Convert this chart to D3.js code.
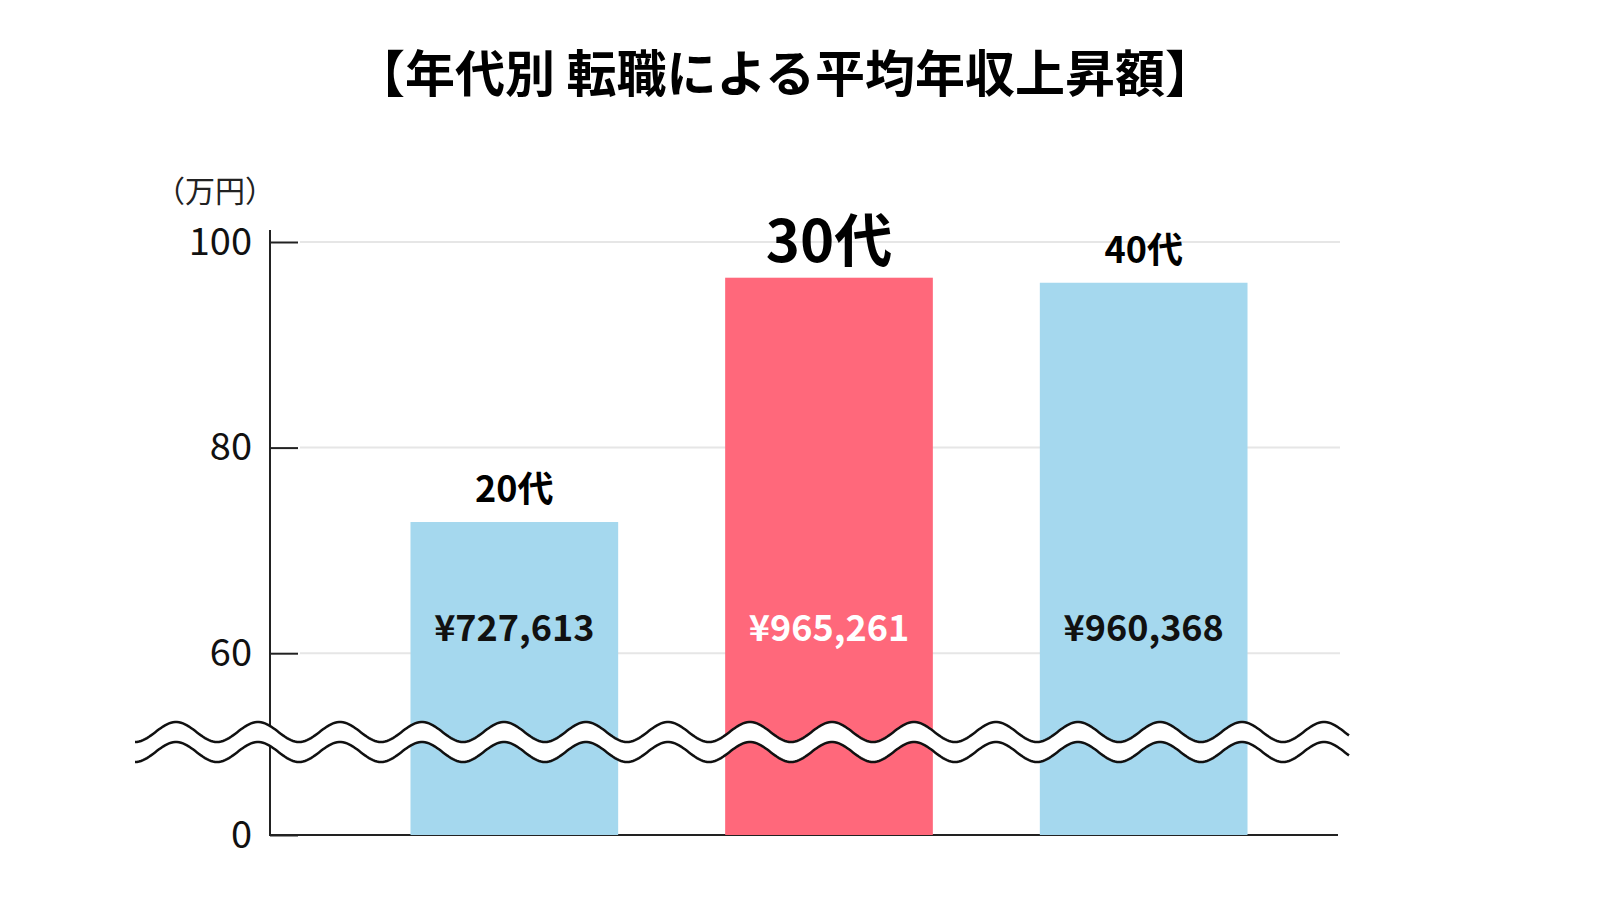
<!DOCTYPE html>
<html><head><meta charset="utf-8">
<script src="https://cdn.jsdelivr.net/npm/d3@7"></script>
<style>body{margin:0;background:#fff}text{font-family:"Noto Sans CJK JP",sans-serif}</style>
</head><body><svg id="c" width="1600" height="920"></svg>
<script>
const categories = ["20代", "30代", "40代"];
const values = [72.7613, 96.5261, 96.0368];
const valueLabels = ["¥727,613", "¥965,261", "¥960,368"];
const highlight = [false, true, false];
const tickValues = [0, 60, 80, 100];

const svg = d3.select("#c");
const x = d3.scaleBand().domain(categories).range([357, 1301]).paddingInner(0.34).paddingOuter(0.17);
// broken axis: 0..50 compressed below the wave
const y = d3.scaleLinear().domain([0, 50, 100]).range([835, 756, 242]);

svg.append("text").attr("x", 785).attr("y", 92).attr("text-anchor", "middle")
  .attr("font-size", 50).attr("font-weight", 700).text("【年代別 転職による平均年収上昇額】");
svg.append("text").attr("x", 215).attr("y", 202).attr("text-anchor", "middle")
  .attr("font-size", 30).attr("fill", "#222").text("（万円）");

svg.selectAll(".grid").data(tickValues.filter(d => d > 0)).join("line")
  .attr("x1", 300).attr("x2", 1340).attr("y1", d => y(d)).attr("y2", d => y(d))
  .attr("stroke", "#e6e6e6").attr("stroke-width", 2);

const axis = d3.axisLeft(y).tickValues(tickValues).tickSize(-28).tickPadding(18);
const g = svg.append("g").attr("transform", "translate(270,0)").call(axis);
g.select(".domain").remove();
g.selectAll(".tick line").attr("stroke", "#222").attr("stroke-width", 2);
g.selectAll(".tick text").attr("font-size", 38).attr("fill", "#111")
  .attr("font-family", '"Noto Sans CJK JP",sans-serif');
svg.append("line").attr("x1", 270).attr("x2", 270).attr("y1", 230).attr("y2", 836)
  .attr("stroke", "#222").attr("stroke-width", 2);
svg.append("line").attr("x1", 269).attr("x2", 1338).attr("y1", 835).attr("y2", 835)
  .attr("stroke", "#222").attr("stroke-width", 2);

svg.selectAll(".bar").data(categories).join("rect")
  .attr("x", d => x(d)).attr("width", x.bandwidth())
  .attr("y", (d, i) => y(values[i])).attr("height", (d, i) => y(0) - y(values[i]))
  .attr("fill", (d, i) => highlight[i] ? "#ff687b" : "#a5d8ee");

svg.selectAll(".cat").data(categories).join("text")
  .attr("x", d => x(d) + x.bandwidth() / 2)
  .attr("y", (d, i) => y(values[i]) - (highlight[i] ? 16 : 20))
  .attr("text-anchor", "middle").attr("font-weight", 700)
  .attr("font-size", (d, i) => highlight[i] ? 58 : 36).text(d => d);

svg.selectAll(".val").data(categories).join("text")
  .attr("x", d => x(d) + x.bandwidth() / 2).attr("y", 641)
  .attr("text-anchor", "middle").attr("font-weight", 700).attr("font-size", 36)
  .attr("fill", (d, i) => highlight[i] ? "#fff" : "#111").text((d, i) => valueLabels[i]);

// wave break
const waveX0 = 135, waveX1 = 1350, period = 82, amp = 10;
const pts = d3.range(waveX0, waveX1 + 1, 2);
const wave = off => pts.map(px => [px, off + amp * Math.sin((px - waveX0) / period * 2 * Math.PI + Math.PI / 2)]);
const upperWave = wave(732), lowerWave = wave(752);
svg.append("path").attr("d", d3.line()(upperWave.concat(lowerWave.slice().reverse())) + "Z")
  .attr("fill", "#fff");
[upperWave, lowerWave].forEach(p => svg.append("path").attr("d", d3.line()(p))
  .attr("fill", "none").attr("stroke", "#111").attr("stroke-width", 2.5));
</script></body></html>
